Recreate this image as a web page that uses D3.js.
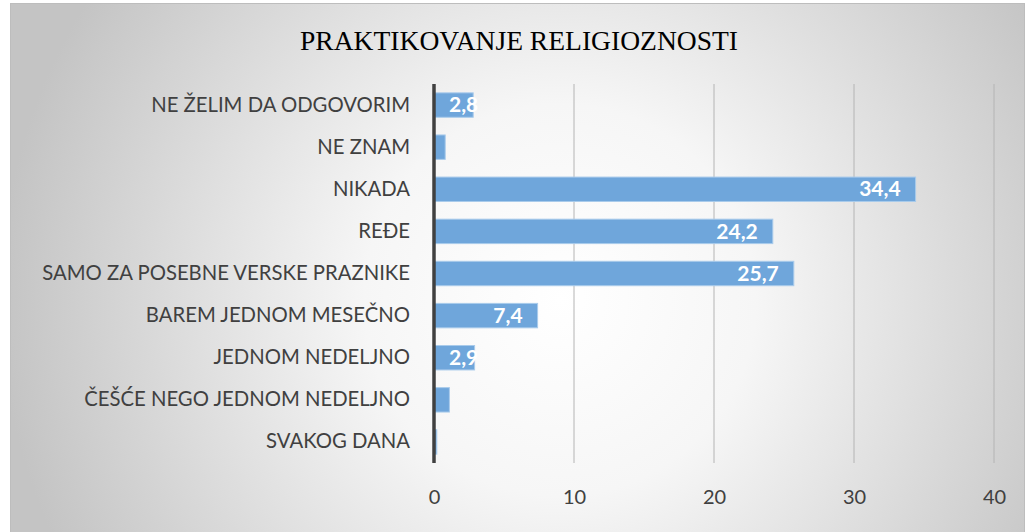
<!DOCTYPE html>
<html>
<head>
<meta charset="utf-8">
<script src="https://cdn.jsdelivr.net/npm/d3@7"></script>
<style>
  html, body { margin: 0; padding: 0; background: #fff; }
  svg { display: block; }
</style>
</head>
<body>
<svg id="chart" width="1030" height="532"></svg>
<script>
// podaci
const categories = [
  "NE ŽELIM DA ODGOVORIM",
  "NE ZNAM",
  "NIKADA",
  "REĐE",
  "SAMO ZA POSEBNE VERSKE PRAZNIKE",
  "BAREM JEDNOM MESEČNO",
  "JEDNOM NEDELJNO",
  "ČEŠĆE NEGO JEDNOM NEDELJNO",
  "SVAKOG DANA"
];
const values = [2.8, 0.8, 34.4, 24.2, 25.7, 7.4, 2.9, 1.1, 0.2];
const showLabel = [true, false, true, true, true, true, true, false, false];
const xTicks = [0, 10, 20, 30, 40];
const title = "PRAKTIKOVANJE RELIGIOZNOSTI";

const svg = d3.select("#chart");
const W = 1030, H = 532;

// pozadina - radijalni gradijent
const defs = svg.append("defs");
const grad = defs.append("radialGradient")
  .attr("id", "bg")
  .attr("gradientUnits", "userSpaceOnUse")
  .attr("cx", 560).attr("cy", 300).attr("r", 560);
grad.append("stop").attr("offset", "0%").attr("stop-color", "#ffffff");
grad.append("stop").attr("offset", "35%").attr("stop-color", "#f6f6f6");
grad.append("stop").attr("offset", "100%").attr("stop-color", "#c4c4c4");

svg.append("rect")
  .attr("x", 10.5).attr("y", 3.5)
  .attr("width", 1014).attr("height", 540)
  .attr("fill", "url(#bg)")
  .attr("stroke", "#bdbdbd")
  .attr("stroke-width", 1);

const margin = { left: 434, right: 36, top: 84, bottom: 69 };

const x = d3.scaleLinear()
  .domain([0, 40])
  .range([margin.left, W - margin.right]);

const y = d3.scaleBand()
  .domain(categories)
  .range([margin.top, H - margin.bottom])
  .paddingInner(0.42)
  .paddingOuter(0.21);

// mreža
svg.append("g")
  .selectAll("line")
  .data(xTicks.slice(1))
  .enter()
  .append("line")
  .attr("x1", (d) => x(d)).attr("x2", (d) => x(d))
  .attr("y1", margin.top).attr("y2", H - margin.bottom)
  .attr("stroke", "#b4b4b4")
  .attr("stroke-width", 1);

// stubići
svg.append("g")
  .selectAll("rect")
  .data(values)
  .enter()
  .append("rect")
  .attr("x", x(0))
  .attr("y", (d, i) => y(categories[i]))
  .attr("width", (d) => x(d) - x(0))
  .attr("height", y.bandwidth())
  .attr("fill", "#6fa6db")
  .attr("stroke", "#a9cbeb")
  .attr("stroke-width", 1);

// vertikalna osa
svg.append("line")
  .attr("x1", x(0)).attr("x2", x(0))
  .attr("y1", margin.top).attr("y2", H - margin.bottom)
  .attr("stroke", "#404040")
  .attr("stroke-width", 3.5);

// oznake vrednosti
svg.append("g")
  .selectAll("text")
  .data(values.map((v, i) => ({ v, i })).filter((d) => showLabel[d.i]))
  .enter()
  .append("text")
  .attr("x", (d) => (d.v > 5 ? x(d.v) - 15 : x(0) + 15))
  .attr("y", (d) => y(categories[d.i]) + y.bandwidth() / 2)
  .attr("dy", "0.34em")
  .attr("text-anchor", (d) => (d.v > 5 ? "end" : "start"))
  .attr("fill", "#ffffff")
  .style("font-family", "Lato, 'Open Sans', sans-serif")
  .style("font-weight", "bold")
  .style("font-size", "21px")
  .text((d) => String(d.v).replace(".", ","));

// kategorije
const yAxis = svg.append("g")
  .attr("transform", `translate(${x(0) - 24},0)`)
  .call(d3.axisLeft(y).tickSize(0).tickPadding(0));
yAxis.select(".domain").remove();
yAxis.selectAll("text")
  .attr("fill", "#404040")
  .style("font-family", "Lato, 'Open Sans', sans-serif")
  .style("font-size", "20.3px");

// x osa
const xAxis = svg.append("g")
  .attr("transform", `translate(0,${H - margin.bottom})`)
  .call(d3.axisBottom(x).tickValues(xTicks).tickSize(0).tickPadding(27));
xAxis.select(".domain").remove();
xAxis.selectAll("text")
  .attr("fill", "#404040")
  .style("font-family", "Lato, 'Open Sans', sans-serif")
  .style("font-size", "20px");

// naslov
svg.append("text")
  .attr("x", 519).attr("y", 50)
  .attr("text-anchor", "middle")
  .attr("fill", "#000")
  .attr("textLength", 438)
  .attr("lengthAdjust", "spacingAndGlyphs")
  .style("font-family", "'Liberation Serif', serif")
  .style("font-size", "27px")
  .text(title);
</script>
</body>
</html>
